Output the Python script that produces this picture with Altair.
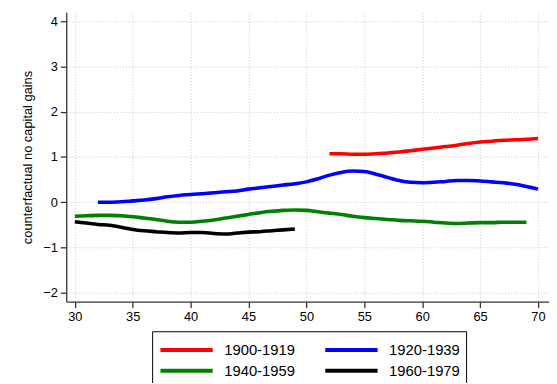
import altair as alt
import pandas as pd

cohorts = ["1900-1919", "1920-1939", "1940-1959", "1960-1979"]
colors = ["#ff0000", "#0000ff", "#008000", "#000000"]

age_1900 = list(range(52, 71))
val_1900 = [1.07, 1.07, 1.06, 1.06, 1.07, 1.09, 1.11, 1.14, 1.17, 1.20,
            1.23, 1.26, 1.30, 1.33, 1.35, 1.37, 1.38, 1.39, 1.41]

age_1920 = list(range(32, 71))
val_1920 = [0.00, 0.00, 0.01, 0.03, 0.05, 0.08, 0.12, 0.15, 0.17, 0.19,
            0.21, 0.23, 0.25, 0.29, 0.32, 0.35, 0.38, 0.41, 0.45, 0.52,
            0.60, 0.66, 0.69, 0.68, 0.62, 0.55, 0.48, 0.44, 0.43, 0.44,
            0.46, 0.48, 0.48, 0.47, 0.45, 0.43, 0.40, 0.35, 0.29]

age_1940 = list(range(30, 70))
val_1940 = [-0.31, -0.30, -0.29, -0.29, -0.30, -0.32, -0.35, -0.38, -0.42, -0.44,
            -0.44, -0.42, -0.39, -0.35, -0.31, -0.27, -0.23, -0.20, -0.18, -0.17,
            -0.18, -0.21, -0.24, -0.27, -0.31, -0.34, -0.36, -0.38, -0.40, -0.41,
            -0.42, -0.44, -0.46, -0.47, -0.46, -0.45, -0.45, -0.44, -0.44, -0.44]

age_1960 = list(range(30, 50))
val_1960 = [-0.43, -0.46, -0.49, -0.51, -0.55, -0.60, -0.63, -0.65, -0.67, -0.68,
            -0.67, -0.67, -0.69, -0.70, -0.68, -0.66, -0.65, -0.63, -0.61, -0.59]

x_ticks = [30, 35, 40, 45, 50, 55, 60, 65, 70]
y_ticks = [-2, -1, 0, 1, 2, 3, 4]

rows = []
for name, ages, vals in zip(cohorts,
                            [age_1900, age_1920, age_1940, age_1960],
                            [val_1900, val_1920, val_1940, val_1960]):
    for a, v in zip(ages, vals):
        rows.append({"age": a, "value": v, "cohort": name})
df = pd.DataFrame(rows)

chart = alt.Chart(df).mark_line(strokeWidth=3.6, interpolate="monotone").encode(
    x=alt.X("age:Q",
            scale=alt.Scale(domain=[29.26, 70.95], nice=False, zero=False),
            axis=alt.Axis(values=x_ticks, title=None, grid=True)),
    y=alt.Y("value:Q",
            scale=alt.Scale(domain=[-2.196, 4.196], nice=False, zero=False),
            axis=alt.Axis(values=y_ticks, title="counterfactual no capital gains",
                          grid=True)),
    color=alt.Color("cohort:N",
                    scale=alt.Scale(domain=cohorts, range=colors),
                    legend=alt.Legend(
                        title=None, orient="none", legendX=87, legendY=323,
                        direction="horizontal", columns=2,
                        symbolType="M-1,0H4", symbolSize=449,
                        symbolStrokeWidth=4, labelFontSize=15, labelFont="Liberation Sans",
                        labelColor="#000000", columnPadding=22, rowPadding=0,
                        padding=6, strokeColor="#000000", fillColor="#ffffff",
                        labelOffset=41, cornerRadius=0, symbolOffset=0)),
).properties(
    width=489, height=293,
    autosize=alt.AutoSizeParams(type="none"),
    padding={"left": 59, "top": 2, "right": 0, "bottom": 80},
).configure_view(
    stroke=None
).configure_axis(
    labelFont="Liberation Sans", labelFontSize=13, labelColor="#000000",
    titleFont="Liberation Sans", titleFontSize=13, titleFontWeight="normal",
    titleColor="#000000",
    domainColor="#333333", domainWidth=1.3,
    tickColor="#333333", tickSize=6, tickWidth=1.3, labelPadding=3,
    gridColor="#c8c8c8", gridDash=[1, 2], gridWidth=1,
).configure_axisY(
    labelAngle=0, titlePadding=8
)

chart.save("out.html", embed_options={"renderer": "svg", "actions": False})
